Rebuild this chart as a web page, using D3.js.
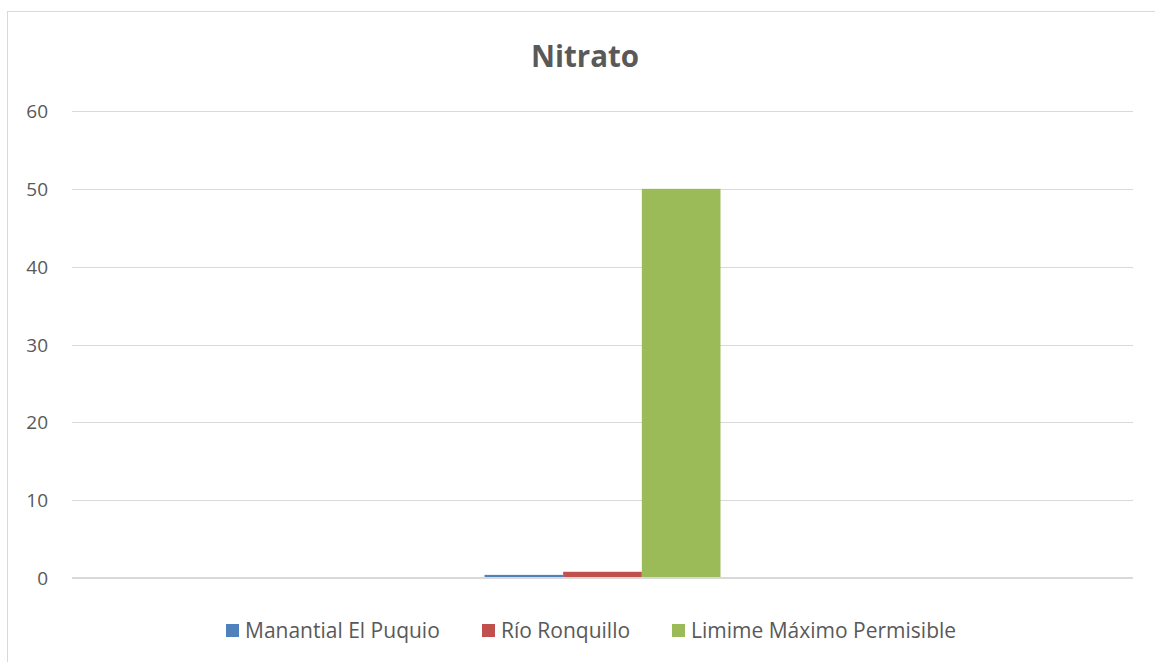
<!DOCTYPE html>
<html>
<head>
<meta charset="utf-8">
<script src="https://cdn.jsdelivr.net/npm/d3@7"></script>
<style>
  html, body { margin: 0; padding: 0; background: #fff; }
  svg { display: block; }
</style>
</head>
<body>
<svg id="chart" width="1155" height="662"></svg>
<script>
// Nitrate concentration by source, with the maximum permissible limit
const categories = [""];
const seriesNames = ["Manantial El Puquio", "Río Ronquillo", "Limime Máximo Permisible"];
const seriesColors = ["#4f81bd", "#c0504d", "#9bbb59"];
const manantialValues = [0.4];
const ronquilloValues = [0.8];
const limiteValues = [50];
const yTicks = [0, 10, 20, 30, 40, 50, 60];
const chartTitle = "Nitrato";

const seriesValues = [manantialValues, ronquilloValues, limiteValues];

const W = 1155, H = 662;
const font = "'Open Sans', Lato, sans-serif";
const svg = d3.select("#chart");

// outer frame
svg.append("rect")
  .attr("x", 7.5).attr("y", 11.5)
  .attr("width", W + 10).attr("height", H + 10)
  .attr("fill", "#fff").attr("stroke", "#d9d9d9").attr("stroke-width", 1);

const plot = { left: 72, right: 1133, top: 111, bottom: 578 };

const y = d3.scaleLinear().domain([0, 60]).range([plot.bottom, plot.top]);

const x0 = d3.scaleBand().domain(categories)
  .range([plot.left, plot.right])
  .paddingInner(0).paddingOuter(1.748);

const x1 = d3.scaleBand().domain(d3.range(seriesNames.length))
  .range([0, x0.bandwidth()]).padding(0);

// gridlines
svg.append("g")
  .selectAll("line")
  .data(yTicks)
  .join("line")
  .attr("x1", plot.left).attr("x2", plot.right)
  .attr("y1", d => Math.round(y(d)) + 0.5)
  .attr("y2", d => Math.round(y(d)) + 0.5)
  .attr("stroke", "#d9d9d9")
  .attr("stroke-width", 1);

// y axis labels
const yAxis = d3.axisLeft(y).tickValues(yTicks).tickSize(0).tickPadding(0);
const gy = svg.append("g")
  .attr("transform", `translate(${48},0)`)
  .call(yAxis);
gy.select(".domain").remove();
gy.selectAll("text")
  .attr("font-family", font)
  .attr("font-size", 19)
  .attr("fill", "#595959")
  .attr("dy", "0.35em");

// bars
const groups = svg.append("g")
  .selectAll("g")
  .data(categories)
  .join("g")
  .attr("transform", d => `translate(${x0(d)},0)`);

groups.selectAll("rect")
  .data((d, ci) => seriesValues.map((vals, si) => ({ si, v: vals[ci] })))
  .join("rect")
  .attr("x", d => x1(d.si))
  .attr("width", x1.bandwidth())
  .attr("y", d => y(d.v))
  .attr("height", d => y(0) - y(d.v))
  .attr("fill", d => seriesColors[d.si]);

// baseline
svg.append("line")
  .attr("x1", plot.left).attr("x2", plot.right)
  .attr("y1", y(0)).attr("y2", y(0))
  .attr("stroke", "#d9d9d9").attr("stroke-width", 2);

// title
svg.append("text")
  .attr("x", 585).attr("y", 67)
  .attr("text-anchor", "middle")
  .attr("font-family", font)
  .attr("font-weight", "bold")
  .attr("font-size", 29.5)
  .attr("fill", "#595959")
  .text(chartTitle);

// legend
const legendX = [226, 482, 672];
const legend = svg.append("g");
const items = legend.selectAll("g")
  .data(seriesNames)
  .join("g")
  .attr("transform", (d, i) => `translate(${legendX[i]},${624})`);
items.append("rect")
  .attr("width", 13).attr("height", 13)
  .attr("fill", (d, i) => seriesColors[i]);
items.append("text")
  .attr("x", 19).attr("y", 6.5)
  .attr("dy", "0.35em")
  .attr("font-family", font)
  .attr("font-size", 21)
  .attr("fill", "#595959")
  .text(d => d);
</script>
</body>
</html>
